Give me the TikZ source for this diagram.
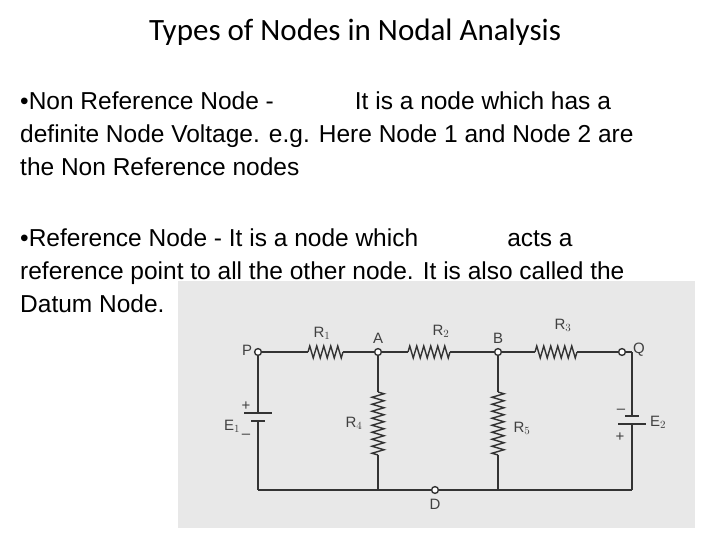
\documentclass[tikz,border=0pt]{standalone}
\usepackage{fontspec}
\setmainfont{Liberation Sans}
\newfontfamily\titlefont{Carlito}
\usetikzlibrary{decorations.pathmorphing}
\tikzset{
  txt/.style={anchor=base west, inner sep=0pt, font=\fontsize{24.5}{24.5}\selectfont},
  res/.style={decorate, decoration={zigzag, segment length=7pt, amplitude=6pt}},
  lbl/.style={font=\fontsize{15}{15}\selectfont, text=black!75},
  wire/.style={line width=1.4pt, black!80},
  term/.style={circle, draw=black!80, line width=1.4pt, fill=white, inner sep=2.4pt}
}
\begin{document}
\begin{tikzpicture}[x=1pt,y=1pt]
\useasboundingbox (0,0) rectangle (720,-540);
\fill[white] (0,0) rectangle (720,-540);

%title
\node[font=\titlefont\fontsize{31}{31}\selectfont] (title) at (355,-32) {Types of Nodes in Nodal Analysis};

%bullets
\node[txt] (l1) at (20,-110) {\textbullet Non Reference Node -\hspace{81pt}It is a node which has a};
\node[txt] (l2) at (20,-143) {definite Node Voltage. e.g. Here Node 1 and Node 2 are};
\node[txt] (l3) at (20,-176) {the Non Reference nodes};
\node[txt] (l4) at (20,-246) {\textbullet Reference Node - It is a node which\hspace{89pt}acts a};
\node[txt] (l5) at (20,-279) {reference point to all the other node. It is also called the};
\node[txt] (l6) at (20,-312) {Datum Node.};

%photo of circuit
\fill[black!9] (178,-281) rectangle (695,-528);

\coordinate (P) at (258,-352);
\coordinate (A) at (378,-352);
\coordinate (B) at (498,-352);
\coordinate (Q) at (622,-352);
\coordinate (PD) at (258,-490);
\coordinate (AD) at (378,-490);
\coordinate (BD) at (498,-490);
\coordinate (QD) at (632,-490);
\coordinate (QC) at (632,-352);

%top wire with R1, R2, R3
\draw[wire] (P) -- (308,-352);
\draw[wire, res] (308,-352) -- (343,-352);
\draw[wire] (343,-352) -- (A) -- (408,-352);
\draw[wire, res] (408,-352) -- (450,-352);
\draw[wire] (450,-352) -- (B) -- (535,-352);
\draw[wire, res] (535,-352) -- (577,-352);
\draw[wire] (577,-352) -- (Q);

%bottom wire
\draw[wire] (PD) -- (QD);

%E1
\draw[wire] (P) -- (258,-413);
\draw[wire] (244,-413) -- (272,-413);
\draw[wire] (251,-421) -- (265,-421);
\draw[wire] (258,-421) -- (PD);

%R4, R5
\draw[wire] (A) -- (378,-392);
\draw[wire, res] (378,-392) -- (378,-455);
\draw[wire] (378,-455) -- (AD);
\draw[wire] (B) -- (498,-392);
\draw[wire, res] (498,-392) -- (498,-455);
\draw[wire] (498,-455) -- (BD);

%E2
\draw[wire] (QD) -- (632,-424);
\draw[wire] (618,-424) -- (646,-424);
\draw[wire] (625,-416) -- (639,-416);
\draw[wire] (632,-416) -- (QC);
\draw[wire] (QC) -- (Q);

%terminals
\node[term] (nP) at (P) {};
\node[term] (nA) at (A) {};
\node[term] (nB) at (B) {};
\node[term] (nQ) at (Q) {};
\node[term] (nD) at (435,-490) {};

%labels
\node[lbl] at (247,-350) {P};
\node[lbl] at (378,-338) {A};
\node[lbl] at (498,-338) {B};
\node[lbl] at (639,-350) {Q};
\node[lbl] at (435,-504) {D};
\node[lbl] at (322,-333) {R$_1$};
\node[lbl] at (441,-331) {R$_2$};
\node[lbl] at (563,-325) {R$_3$};
\node[lbl] at (354,-423) {R$_4$};
\node[lbl] at (522,-428) {R$_5$};
\node[lbl] at (232,-426) {E$_1$};
\node[lbl] at (658,-422) {E$_2$};
\node[lbl] at (246,-406) {+};
\node[lbl] at (246,-436) {--};
\node[lbl] at (621,-411) {--};
\node[lbl] at (620,-437) {+};
\end{tikzpicture}
\end{document}
